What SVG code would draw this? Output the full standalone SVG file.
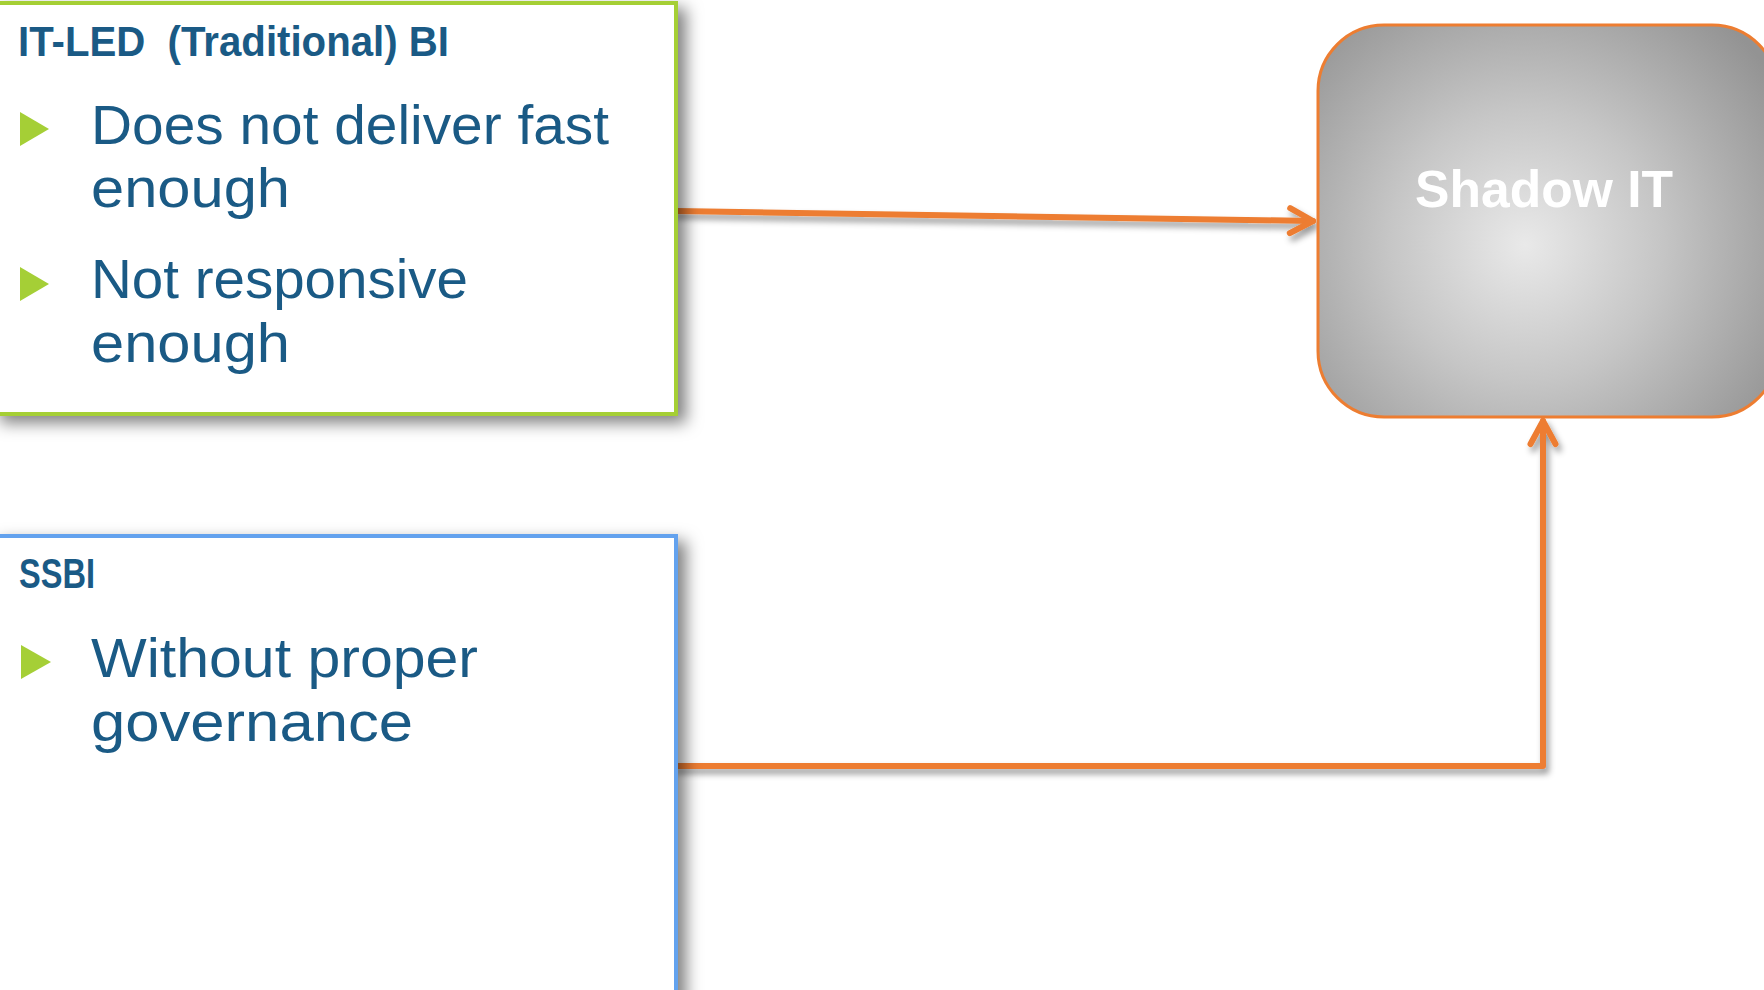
<svg xmlns="http://www.w3.org/2000/svg" width="1764" height="990" viewBox="0 0 1764 990">
  <defs>
    <style>
      .title { font-family: "Liberation Sans", Arial, sans-serif; font-weight: bold; fill: #1A5A85; }
      .item { font-family: "Liberation Sans", Arial, sans-serif; font-size: 56px; fill: #1A5A85; }
      .bullet { fill: #A5CF36; }
      .conn { fill: none; stroke: #ED7D31; stroke-width: 6; stroke-linecap: round; stroke-linejoin: round; }
      .label { font-family: "Liberation Sans", Arial, sans-serif; font-weight: bold; font-size: 52px; fill: #FFFFFF; }
    </style>
    <filter id="boxShadow" x="-10%" y="-10%" width="130%" height="130%">
      <feDropShadow dx="8" dy="7" stdDeviation="8" flood-color="#000" flood-opacity="0.5"/>
    </filter>
    <filter id="lineShadow" x="-10%" y="-50%" width="130%" height="300%">
      <feDropShadow dx="3" dy="5" stdDeviation="3" flood-color="#000" flood-opacity="0.4"/>
    </filter>
    <radialGradient id="grayGrad" gradientUnits="userSpaceOnUse" cx="1525" cy="245" r="300">
      <stop offset="0" stop-color="#E9E9E9"/>
      <stop offset="0.45" stop-color="#C6C6C6"/>
      <stop offset="1" stop-color="#939393"/>
    </radialGradient>
    <marker id="arrow" markerWidth="10" markerHeight="10" refX="0" refY="0" orient="auto" markerUnits="userSpaceOnUse" overflow="visible">
      <path d="M-23,-12.5 L0,0 L-23,12.5" fill="none" stroke="#ED7D31" stroke-width="6" stroke-linecap="round" stroke-linejoin="round"/>
    </marker>
  </defs>

  <rect x="0" y="0" width="1764" height="990" fill="#FFFFFF"/>

  <g id="connectors" filter="url(#lineShadow)">
    <path class="conn" d="M676,211 L1313,221" marker-end="url(#arrow)"/>
    <path class="conn" d="M676,766 L1543,766 L1543,421" marker-end="url(#arrow)"/>
  </g>

  <g id="node-itled">
    <rect x="-6" y="3" width="682" height="411" fill="#FFFFFF" stroke="#A5CF36" stroke-width="4" filter="url(#boxShadow)"/>
    <text class="title" x="18" y="56" font-size="42" textLength="431" lengthAdjust="spacingAndGlyphs">IT-LED&#160;&#160;(Traditional) BI</text>
    <polygon class="bullet" points="20,112 49,129 20,146"/>
    <text class="item" x="91" y="144" textLength="518" lengthAdjust="spacingAndGlyphs">Does not deliver fast</text>
    <text class="item" x="91" y="207" textLength="199" lengthAdjust="spacingAndGlyphs">enough</text>
    <polygon class="bullet" points="20,267 49,284 20,301"/>
    <text class="item" x="91" y="298" textLength="377" lengthAdjust="spacingAndGlyphs">Not responsive</text>
    <text class="item" x="91" y="362" textLength="199" lengthAdjust="spacingAndGlyphs">enough</text>
  </g>

  <g id="node-ssbi">
    <rect x="-6" y="536" width="682" height="480" fill="#FFFFFF" stroke="#63A2EE" stroke-width="4" filter="url(#boxShadow)"/>
    <text class="title" x="19" y="588" font-size="42" textLength="76" lengthAdjust="spacingAndGlyphs">SSBI</text>
    <polygon class="bullet" points="21,645 51,662 21,679"/>
    <text class="item" x="91" y="677" textLength="387" lengthAdjust="spacingAndGlyphs">Without proper</text>
    <text class="item" x="91" y="741" textLength="322" lengthAdjust="spacingAndGlyphs">governance</text>
  </g>

  <g id="node-shadowit">
    <rect x="1318" y="25" width="460" height="392" rx="66" ry="66" fill="url(#grayGrad)" stroke="#ED7D31" stroke-width="3"/>
    <text class="label" x="1544" y="207" text-anchor="middle" textLength="258" lengthAdjust="spacingAndGlyphs">Shadow IT</text>
  </g>
</svg>
